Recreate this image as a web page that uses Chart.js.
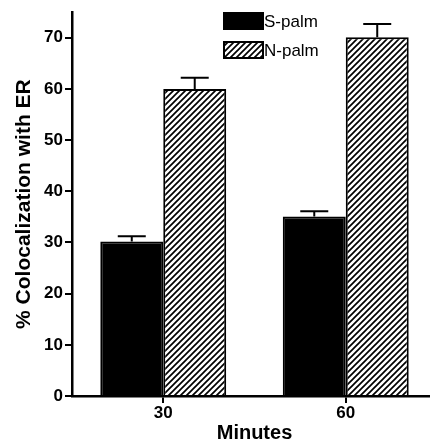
<!DOCTYPE html>
<html>
<head>
<meta charset="utf-8">
<script src="https://cdn.jsdelivr.net/npm/chart.js@4.4.1/dist/chart.umd.min.js"></script>
<style>
  html, body { margin: 0; padding: 0; background: #fff; overflow: hidden; }
  #wrap { width: 440px; height: 445px; }
</style>
</head>
<body>
<div id="wrap"><canvas id="chart" width="440" height="445"></canvas></div>
<script>
const CATEGORIES = ["30", "60"];
const S_PALM = [30.2, 35.1];
const S_PALM_ERR = [1.0, 1.0];
const N_PALM = [60.0, 70.1];
const N_PALM_ERR = [2.2, 2.6];
const Y_TICKS = [0, 10, 20, 30, 40, 50, 60, 70];

function hatchPattern() {
  const c = document.createElement("canvas");
  c.width = 6; c.height = 6;
  const g = c.getContext("2d");
  g.fillStyle = "#fff";
  g.fillRect(0, 0, 6, 6);
  g.strokeStyle = "#000";
  g.lineWidth = 1.7;
  g.beginPath();
  g.moveTo(-1, 7); g.lineTo(7, -1);
  g.moveTo(-1, 1); g.lineTo(1, -1);
  g.moveTo(5, 7); g.lineTo(7, 5);
  g.stroke();
  return document.getElementById("chart").getContext("2d").createPattern(c, "repeat");
}

const hatch = hatchPattern();

// upper error bars only, drawn from the bar top
const errorBars = {
  id: "errorBars",
  afterDatasetsDraw(chart) {
    const { ctx, scales: { y } } = chart;
    ctx.save();
    ctx.strokeStyle = "#000";
    ctx.lineWidth = 2;
    chart.data.datasets.forEach((ds, i) => {
      chart.getDatasetMeta(i).data.forEach((bar, j) => {
        const top = y.getPixelForValue(ds.data[j] + ds.errors[j]);
        ctx.beginPath();
        ctx.moveTo(bar.x, bar.y);
        ctx.lineTo(bar.x, top);
        ctx.moveTo(bar.x - 14, top);
        ctx.lineTo(bar.x + 14, top);
        ctx.stroke();
      });
    });
    ctx.restore();
  },
};

const boxLegend = {
  id: "boxLegend",
  afterDraw(chart) {
    const { ctx } = chart;
    ctx.save();
    ctx.font = "17px 'Liberation Sans', Arial, sans-serif";
    ctx.textBaseline = "middle";
    chart.data.datasets.forEach((ds, i) => {
      const top = 13 + i * 29;
      ctx.fillStyle = ds.backgroundColor;
      ctx.fillRect(224, top, 39, 16);
      ctx.strokeStyle = "#000";
      ctx.lineWidth = 2;
      ctx.strokeRect(224, top, 39, 16);
      ctx.fillStyle = "#000";
      ctx.fillText(ds.label, 264, top + 9);
    });
    ctx.restore();
  },
};

new Chart(document.getElementById("chart"), {
  type: "bar",
  data: {
    labels: CATEGORIES,
    datasets: [
      { label: "S-palm", data: S_PALM, errors: S_PALM_ERR, backgroundColor: "#000", borderColor: "#000", borderWidth: 2 },
      { label: "N-palm", data: N_PALM, errors: N_PALM_ERR, backgroundColor: hatch, borderColor: "#000", borderWidth: 2 },
    ],
  },
  options: {
    responsive: false,
    animation: false,
    layout: { padding: { top: 8, right: 3, left: 0, bottom: 0 } },
    datasets: { bar: { barPercentage: 1, categoryPercentage: 0.69 } },
    plugins: { legend: { display: false }, tooltip: { enabled: false } },
    scales: {
      x: {
        afterFit(scale) { scale.height = 49; },
        border: { color: "#000", width: 2.5 },
        grid: { drawOnChartArea: false, color: "#000", lineWidth: 2, tickLength: 7, offset: false },
        ticks: { color: "#000", font: { family: "'Liberation Sans', Arial", size: 17, weight: "bold" }, padding: 0 },
        title: { display: true, text: "Minutes", color: "#000", font: { family: "'Liberation Sans', Arial", size: 20, weight: "bold" }, padding: { top: 0, bottom: 0 } },
      },
      y: {
        min: 0,
        max: 75,
        afterFit(scale) { scale.width = 72; },
        afterBuildTicks(scale) { scale.ticks = Y_TICKS.map((v) => ({ value: v })); },
        border: { color: "#000", width: 2.5 },
        grid: { drawOnChartArea: false, color: "#000", lineWidth: 2, tickLength: 7 },
        ticks: { color: "#000", font: { family: "'Liberation Sans', Arial", size: 17, weight: "bold" }, padding: 2 },
        title: { display: true, text: "% Colocalization with ER", color: "#000", font: { family: "'Liberation Sans', Arial", size: 21, weight: "bold" }, padding: { top: 12, bottom: 0 } },
      },
    },
  },
  plugins: [errorBars, boxLegend],
});
</script>
</body>
</html>
